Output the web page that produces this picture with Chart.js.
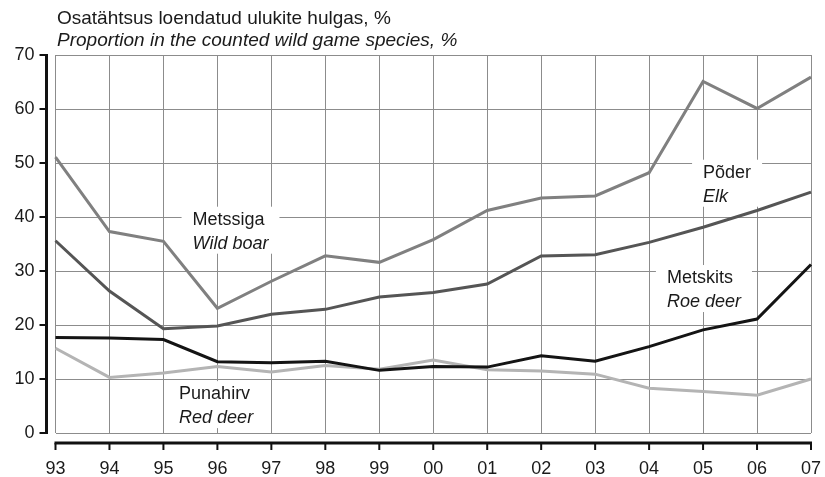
<!DOCTYPE html>
<html>
<head>
<meta charset="utf-8">
<script src="https://cdn.jsdelivr.net/npm/chart.js@4"></script>
<style>
  body { margin: 0; background: #fff; }
  #wrap { width: 825px; height: 477px; }
</style>
</head>
<body>
<div id="wrap"><canvas id="chart" width="825" height="477"></canvas></div>
<script>
// Data
const years = ['93', '94', '95', '96', '97', '98', '99', '00', '01', '02', '03', '04', '05', '06', '07'];
const yTicks = [0, 10, 20, 30, 40, 50, 60, 70];

const metssiga = [51.1, 37.3, 35.5, 23.1, 28.1, 32.8, 31.6, 35.8, 41.2, 43.5, 43.9, 48.2, 65.1, 60.1, 65.9];
const poder = [35.6, 26.3, 19.3, 19.8, 22.0, 22.9, 25.2, 26.0, 27.6, 32.8, 33.0, 35.3, 38.1, 41.2, 44.6];
const metskits = [17.7, 17.6, 17.3, 13.2, 13.0, 13.3, 11.6, 12.3, 12.2, 14.3, 13.3, 16.0, 19.1, 21.1, 31.2];
const punahirv = [15.7, 10.3, 11.1, 12.3, 11.3, 12.5, 11.8, 13.5, 11.7, 11.5, 10.9, 8.3, 7.7, 7.0, 10.0];

const titleLines = ['Osatähtsus loendatud ulukite hulgas, %', 'Proportion in the counted wild game species, %'];

// series labels: x = category index of text start, y = value at first line
const seriesLabels = [
  { x: 2.54, y: 39.5, lines: ['Metssiga', 'Wild boar'] },
  { x: 2.29, y: 7.2, lines: ['Punahirv', 'Red deer'] },
  { x: 12.0, y: 48.2, lines: ['Põder', 'Elk'] },
  { x: 11.33, y: 28.7, lines: ['Metskits', 'Roe deer'] }
];

const FONT = '"Liberation Sans", Arial, sans-serif';

// Axes drawn offset from the plot area, plus titles and in-plot labels
const decorPlugin = {
  id: 'decor',
  beforeDatasetsDraw(chart) {
    const ctx = chart.ctx;
    const xs = chart.scales.x, ys = chart.scales.y;
    ctx.save();
    seriesLabels.forEach(lbl => {
      const px = xs.left + lbl.x * (xs.width / (years.length - 1));
      const py = ys.getPixelForValue(lbl.y);
      ctx.font = '18px ' + FONT;
      const w1 = ctx.measureText(lbl.lines[0]).width;
      ctx.font = 'italic 18px ' + FONT;
      const w2 = ctx.measureText(lbl.lines[1]).width;
      const w = Math.max(w1, w2);
      ctx.fillStyle = '#fff';
      ctx.fillRect(px - 11, py - 13, w + 22, 47);
      ctx.fillStyle = '#1a1a1a';
      ctx.textBaseline = 'middle';
      ctx.textAlign = 'left';
      ctx.font = '18px ' + FONT;
      ctx.fillText(lbl.lines[0], px, py);
      ctx.font = 'italic 18px ' + FONT;
      ctx.fillText(lbl.lines[1], px, py + 24);
    });
    ctx.restore();
  },
  afterDraw(chart) {
    const ctx = chart.ctx;
    const xs = chart.scales.x, ys = chart.scales.y;
    ctx.save();
    ctx.strokeStyle = '#111';
    ctx.lineCap = 'butt';

    // y axis
    const ax = xs.left - 9;
    ctx.lineWidth = 3;
    ctx.beginPath();
    ctx.moveTo(ax, ys.getPixelForValue(70) - 1);
    ctx.lineTo(ax, ys.getPixelForValue(0) + 1);
    ctx.stroke();
    ctx.lineWidth = 2;
    yTicks.forEach(v => {
      const y = ys.getPixelForValue(v);
      ctx.beginPath();
      ctx.moveTo(ax - 7, y);
      ctx.lineTo(ax, y);
      ctx.stroke();
    });

    // x axis
    const ay = ys.bottom + 10;
    ctx.lineWidth = 3;
    ctx.beginPath();
    ctx.moveTo(xs.getPixelForValue(0) - 1, ay);
    ctx.lineTo(xs.getPixelForValue(years.length - 1) + 1, ay);
    ctx.stroke();
    ctx.lineWidth = 2;
    years.forEach((_, i) => {
      const x = xs.getPixelForValue(i);
      ctx.beginPath();
      ctx.moveTo(x, ay);
      ctx.lineTo(x, ay + 7);
      ctx.stroke();
    });

    // titles
    ctx.fillStyle = '#1a1a1a';
    ctx.textBaseline = 'middle';
    ctx.textAlign = 'left';
    ctx.font = '19px ' + FONT;
    ctx.fillText(titleLines[0], 57, 19);
    ctx.font = 'italic 19px ' + FONT;
    ctx.fillText(titleLines[1], 57, 41);
    ctx.restore();
  }
};

new Chart(document.getElementById('chart'), {
  type: 'line',
  data: {
    labels: years,
    datasets: [
      { label: 'Metssiga', data: metssiga, borderColor: '#808080' },
      { label: 'Põder', data: poder, borderColor: '#555555' },
      { label: 'Metskits', data: metskits, borderColor: '#141414' },
      { label: 'Punahirv', data: punahirv, borderColor: '#b4b4b4' }
    ]
  },
  options: {
    responsive: false,
    animation: false,
    layout: { padding: { top: 55, right: 14, left: 0, bottom: 0 } },
    elements: {
      line: { borderWidth: 3, tension: 0, borderJoinStyle: 'miter' },
      point: { radius: 0 }
    },
    plugins: {
      legend: { display: false },
      tooltip: { enabled: false }
    },
    scales: {
      x: {
        offset: false,
        afterFit: s => { s.height = 44; s.paddingLeft = 0; s.paddingRight = 0; },
        grid: { color: '#8c8c8c', lineWidth: 1, drawTicks: false },
        border: { display: false },
        ticks: { color: '#1a1a1a', font: { family: FONT, size: 18 }, padding: 25, maxRotation: 0, autoSkip: false }
      },
      y: {
        min: 0,
        max: 70,
        afterFit: s => { s.width = 55.5; s.paddingTop = 0; s.paddingBottom = 0; },
        grid: { color: '#8c8c8c', lineWidth: 1, drawTicks: false },
        border: { display: false },
        ticks: { stepSize: 10, color: '#1a1a1a', font: { family: FONT, size: 18 }, padding: 21 }
      }
    }
  },
  plugins: [decorPlugin]
});
</script>
</body>
</html>
